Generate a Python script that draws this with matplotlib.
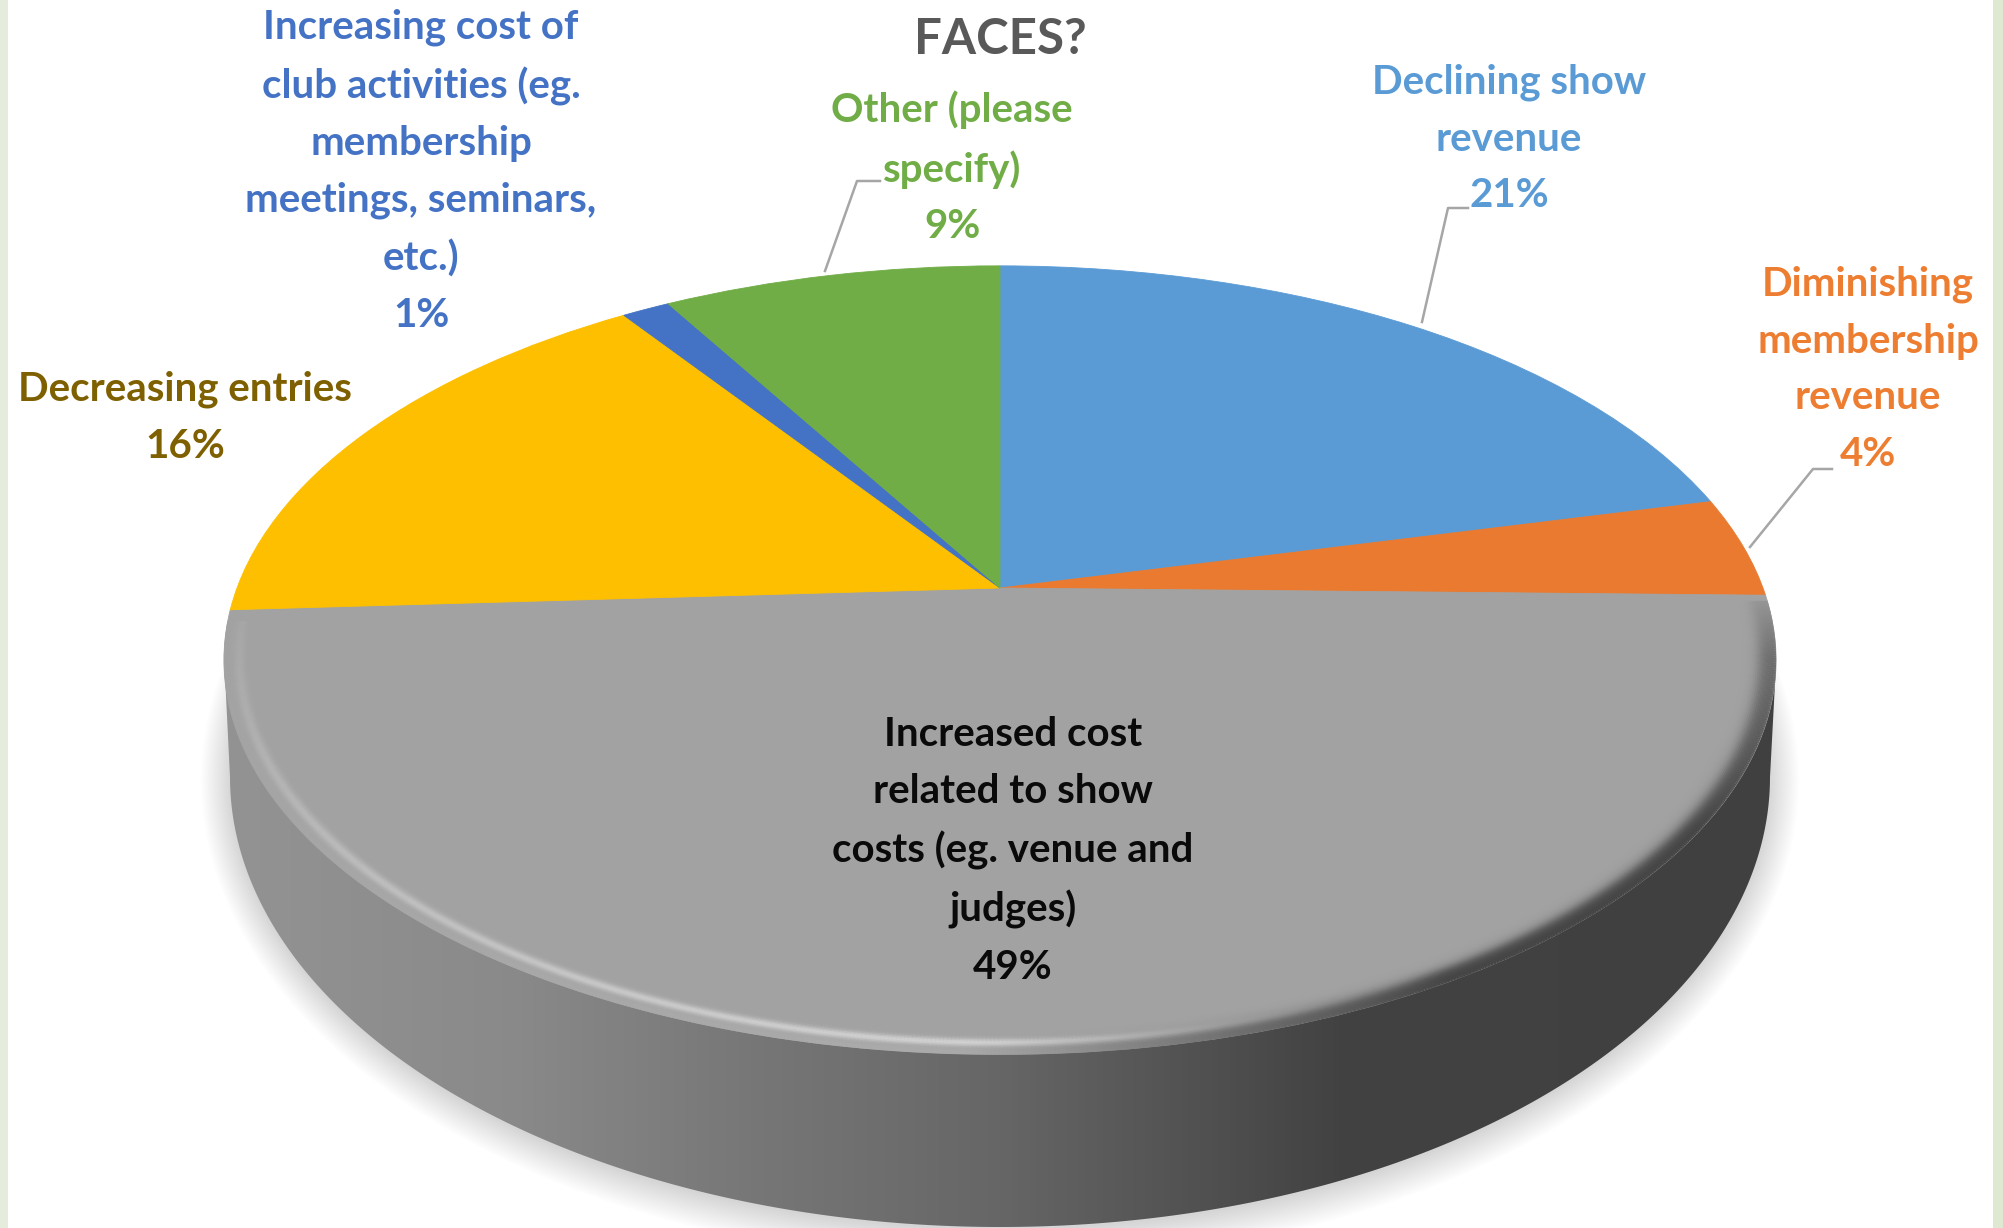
import numpy as np
import matplotlib
matplotlib.use("Agg")
import matplotlib.pyplot as plt
from matplotlib.collections import LineCollection
from matplotlib.colors import LinearSegmentedColormap, to_rgb
from matplotlib.patches import Ellipse, Polygon, Rectangle
from matplotlib.transforms import Transform

plt.rcParams["font.family"] = ["Lato", "DejaVu Sans"]

# survey shares, clockwise from 12 o'clock (labels are rounded)
labels = [
    "Declining show\nrevenue\n21%",
    "Diminishing\nmembership\nrevenue\n4%",
    "Increased cost\nrelated to show\ncosts (eg. venue and\njudges)\n49%",
    "Decreasing entries\n16%",
    "Increasing cost of\nclub activities (eg.\nmembership\nmeetings, seminars,\netc.)\n1%",
    "Other (please\nspecify)\n9%",
]
shares = [21.2, 4.1, 48.8, 16.3, 1.2, 8.4]
colors = ["#5b9bd5", "#e97a2f", "#a2a2a2", "#fdbf00", "#4472c4", "#70ad47"]
text_colors = ["#5b9bd5", "#ed7d31", "#0a0a0a", "#7f6000", "#4472c4", "#70ad47"]
title = "FACES?"

W, H = 2003, 1228
# tilted disc, pixel units
CX, CY, A, B, K = 1000, 588, 763, 381, 0.1827


def project(u, v):
    w = 1 + K * v
    return CX + A * u / w, CY - B * v / w


class Tilt(Transform):
    input_dims = 2
    output_dims = 2

    def transform_non_affine(self, values):
        x, y = project(values[:, 0], values[:, 1])
        return np.column_stack([x, y])


fig = plt.figure(figsize=(W / 100, H / 100), dpi=100, facecolor="white")
ax = fig.add_axes([0, 0, 1, 1])

wedges, _ = ax.pie(shares, colors=colors, startangle=90, counterclock=False)
tilt = Tilt() + ax.transData
for w, c in zip(wedges, colors):
    w.set_transform(tilt)
    w.set_edgecolor(c)
    w.set_linewidth(0.6)
    w.set_zorder(3)

# side wall
t = np.linspace(np.pi, 2 * np.pi, 300)
lower_x = 1000 + 770 * np.cos(t)
lower_y = 777 - 450 * np.sin(t)
wall_pts = np.vstack([[[224, 655]], np.column_stack([lower_x, lower_y]), [[1776, 665], [1000, 588]]])
wall = Polygon(wall_pts, closed=True, facecolor="none", edgecolor="none")
ax.add_patch(wall)
wall_cmap = LinearSegmentedColormap.from_list(
    "wall", [(0, "#939393"), (0.18, "#8a8a8a"), (0.33, "#787878"), (0.5, "#666666"),
             (0.66, "#4c4c4c"), (0.72, "#424242"), (1, "#404040")])
grad = np.linspace(0, 1, 512).reshape(1, -1)
img = ax.imshow(grad, cmap=wall_cmap, extent=[224, 1776, 1228, 588], aspect="auto", zorder=2)
img.set_clip_path(wall)

# soft shadow under the wall
for i in range(14):
    ax.add_patch(Ellipse((1000, 780), 2 * (770 + 2.2 * i), 2 * (450 + 2.6 * i),
                         facecolor="black", alpha=0.012, edgecolor="none", zorder=1))

# bevel along the rim of the grey slice: highlight front-left, dark blur on the right
face = np.array(to_rgb(colors[2]))
light = np.array(to_rgb("#d2d2d2"))
dark = np.array(to_rgb("#444444"))
outer = np.array(to_rgb("#8a8a8a"))
deg = np.linspace(92, 265, 700)
ang = np.radians(deg)
mid = deg[:-1]
light_amt = np.interp(mid, [150, 166, 180, 195, 225, 265], [0, 0.45, 1, 0.9, 0.6, 0.1])
dark_amt = np.interp(mid, [92, 100, 125, 150, 172, 182], [0.15, 0.55, 1, 1, 0.35, 0])
outer_amt = np.interp(mid, [165, 185, 240, 265], [0, 1, 0.4, 0])
for r in np.arange(0.945, 0.9985, 0.0025):
    x, y = project(r * np.sin(ang), r * np.cos(ang))
    pts = np.column_stack([x, y])
    segs = np.stack([pts[:-1], pts[1:]], axis=1)
    peak = np.exp(-((r - 0.982) / 0.007) ** 2)
    ramp = 1 / (1 + np.exp(-(r - 0.980) / 0.0045))
    edge = np.clip((r - 0.988) / 0.012, 0, 1)
    cols = face + np.outer(light_amt * peak, light - face)
    cols = cols + np.outer(dark_amt * ramp, dark - face)
    cols = cols + np.outer(outer_amt * edge, outer - cols.mean(axis=0))
    cols = np.clip(cols, 0, 1)
    ax.add_collection(LineCollection(segs, colors=cols, linewidths=3.0, capstyle="butt", zorder=4))

# leader lines
ax.plot([825, 857, 880], [271, 181, 181], color="#a6a6a6", lw=1.8, zorder=5)
ax.plot([1422, 1448, 1468], [322, 208, 208], color="#a6a6a6", lw=1.8, zorder=5)
ax.plot([1750, 1813, 1832], [547, 469, 469], color="#a6a6a6", lw=1.8, zorder=5)

# data labels
label_pos = [(1509, 139), (1868, 369), (1013, 851), (185, 418), (421, 171), (952, 168)]
for txt, c, (x, y) in zip(labels, text_colors, label_pos):
    ax.text(x, y, txt, color=c, fontsize=29, fontweight="bold", ha="center", va="center",
            linespacing=1.65, zorder=6)
ax.text(1000, 39, title, color="#595959", fontsize=35.5, fontweight="bold", ha="center", va="center", zorder=6)

# slide border strips
ax.add_patch(Rectangle((0, 0), 8, H, facecolor="#e6ecdb", edgecolor="none", zorder=7))
ax.add_patch(Rectangle((1993, 0), 10, H, facecolor="#dfe8d0", edgecolor="none", zorder=7))

ax.set_xlim(0, W)
ax.set_ylim(H, 0)
ax.set_aspect("auto")
ax.axis("off")

fig.savefig("out.png", dpi=100)
